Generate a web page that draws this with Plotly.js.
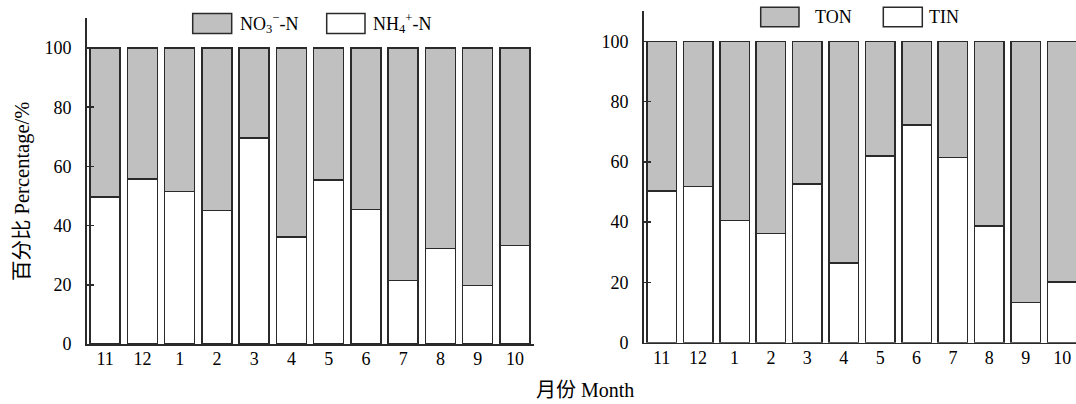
<!DOCTYPE html>
<html>
<head>
<meta charset="utf-8">
<script src="https://cdn.plot.ly/plotly-3.0.1.min.js"></script>
<style>
  html, body { margin: 0; padding: 0; background: #ffffff; }
  #chart { width: 1076px; height: 404px; }
</style>
</head>
<body>
<div id="chart"></div>
<script>
// Month order of the sampling year
const months = ['11', '12', '1', '2', '3', '4', '5', '6', '7', '8', '9', '10'];

// Left panel: share of inorganic nitrogen forms (%)
const ammoniumPct = [49.6, 55.7, 51.6, 45.1, 69.6, 36.1, 55.4, 45.5, 21.4, 32.2, 19.7, 33.3];
const nitratePct  = [50.4, 44.3, 48.4, 54.9, 30.4, 63.9, 44.6, 54.5, 78.6, 67.8, 80.3, 66.7];

// Right panel: share of total inorganic / organic nitrogen (%)
const tinPct = [50.3, 51.8, 40.5, 36.3, 52.7, 26.5, 62.0, 72.3, 61.5, 38.8, 13.4, 20.2];
const tonPct = [49.7, 48.2, 59.5, 63.7, 47.3, 73.5, 38.0, 27.7, 38.5, 61.2, 86.6, 79.8];

// Text
const yTitle = '百分比 Percentage/%';
const xTitle = '月份 Month';
const leftLegend = ['NO<sub>3</sub><sup>−</sup>-N', 'NH<sub>4</sub><sup>+</sup>-N'];
const rightLegend = ['TON', 'TIN'];

const W = 1076, H = 404;
const px = v => v / W;
const py = v => 1 - v / H;

const FONT = "'Liberation Serif', 'Noto Sans CJK SC', serif";
const INK = '#000000';
const EDGE = '#2a2a2a';
const GREY = '#c0c0c0';

function barTrace(y, fill, xa, ya) {
  return {
    type: 'bar', x: months, y: y, xaxis: xa, yaxis: ya,
    marker: { color: fill, line: { color: EDGE, width: 1.5 } },
    showlegend: false, hoverinfo: 'skip'
  };
}

const data = [
  barTrace(ammoniumPct, '#ffffff', 'x', 'y'),
  barTrace(nitratePct, GREY, 'x', 'y'),
  barTrace(tinPct, '#ffffff', 'x2', 'y2'),
  barTrace(tonPct, GREY, 'x2', 'y2')
];

const xCommon = {
  type: 'category', showline: true, linecolor: EDGE, linewidth: 1.5,
  ticks: '', showgrid: false, zeroline: false,
  tickfont: { family: FONT, size: 18, color: INK }, ticklabelstandoff: -2
};
const yCommon = {
  range: [0, 110], tick0: 0, dtick: 20, showline: true, linecolor: EDGE, linewidth: 1.5,
  ticks: 'inside', ticklen: 7, tickwidth: 1.5, tickcolor: EDGE,
  showgrid: false, zeroline: false,
  tickfont: { family: FONT, size: 18, color: INK }, ticklabelstandoff: 10
};

// Legend swatches drawn as boxes with labels beside them
function swatch(x0, x1, y0, y1, fill) {
  return {
    type: 'rect', xref: 'paper', yref: 'paper',
    x0: px(x0), x1: px(x1), y0: py(y1), y1: py(y0),
    fillcolor: fill, line: { color: EDGE, width: 1.5 }
  };
}
function label(text, x, y, size, extra) {
  return Object.assign({
    text: text, xref: 'paper', yref: 'paper', x: px(x), y: py(y),
    xanchor: 'left', yanchor: 'middle', showarrow: false,
    font: { family: FONT, size: size, color: INK }
  }, extra || {});
}

const layout = {
  width: W, height: H,
  font: { family: FONT, size: 18, color: INK },
  margin: { l: 0, r: 0, t: 0, b: 0, pad: 0 },
  paper_bgcolor: '#ffffff', plot_bgcolor: '#ffffff',
  barmode: 'stack', bargap: 0.19,
  showlegend: false,
  xaxis: Object.assign({}, xCommon, { domain: [px(86.5), px(533.5)], range: [-0.5, 11.5], anchor: 'y' }),
  yaxis: Object.assign({}, yCommon, { domain: [py(344), py(18.4)], anchor: 'x' }),
  xaxis2: Object.assign({}, xCommon, { domain: [px(643.5), 1], range: [-0.5, 11.38], anchor: 'y2' }),
  yaxis2: Object.assign({}, yCommon, { domain: [py(342.7), py(11.2)], anchor: 'x2' }),
  shapes: [
    swatch(192.7, 231.7, 13.5, 33.5, GREY),
    swatch(326.7, 365, 13.5, 33.5, '#ffffff'),
    swatch(760.7, 799, 7.3, 26.7, GREY),
    swatch(883.3, 922.3, 7.3, 26.7, '#ffffff')
  ],
  annotations: [
    label(leftLegend[0], 238, 23.5, 18),
    label(leftLegend[1], 371, 23.5, 18),
    label(rightLegend[0], 813, 17, 18),
    label(rightLegend[1], 927, 17, 18),
    label(xTitle, 584.5, 390, 20, { xanchor: 'center' }),
    label(yTitle, 22, 192, 20.5, { xanchor: 'center', textangle: -90 })
  ]
};

Plotly.newPlot('chart', data, layout, { staticPlot: true, displayModeBar: false });
</script>
</body>
</html>
